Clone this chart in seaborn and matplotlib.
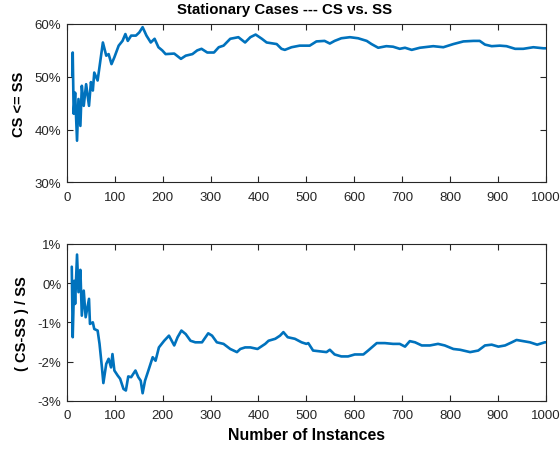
import matplotlib
matplotlib.use("Agg")
import matplotlib.pyplot as plt
import seaborn as sns
import pandas as pd
from matplotlib.ticker import FuncFormatter, MultipleLocator

# ---- data ----
top_x = [11, 12, 14, 17, 21, 24, 28, 31, 35, 40, 46, 50, 54, 57, 64, 75, 82, 87, 93, 99,
         108, 116, 122, 127, 134, 144, 151, 158, 166, 175, 183, 191, 199, 206, 224, 238,
         248, 262, 272, 281, 293, 307, 317, 327, 341, 358, 372, 383, 394, 407, 417, 438,
         448, 455, 469, 486, 507, 521, 538, 549, 559, 573, 591, 608, 626, 636, 650, 667,
         681, 695, 706, 720, 737, 765, 786, 807, 828, 849, 862, 873, 887, 904, 918, 936,
         953, 974, 995, 1000]
top_y = [50.2, 54.6, 43.0, 47.0, 37.9, 45.8, 40.7, 48.3, 44.5, 48.6, 44.5, 49.0, 47.4, 50.8,
         49.3, 56.5, 54.0, 54.3, 52.4, 53.7, 55.9, 56.8, 58.1, 56.8, 57.8, 57.8, 58.4, 59.4,
         57.8, 56.5, 57.2, 55.6, 55.0, 54.3, 54.4, 53.4, 54.0, 54.3, 55.0, 55.3, 54.6, 54.6,
         55.6, 55.9, 57.2, 57.5, 56.5, 57.5, 58.0, 57.2, 56.5, 56.2, 55.3, 55.1, 55.6, 55.9,
         55.9, 56.7, 56.8, 56.3, 56.8, 57.3, 57.5, 57.3, 56.8, 56.2, 55.5, 55.8, 55.7, 55.3,
         55.5, 55.1, 55.5, 55.8, 55.6, 56.2, 56.7, 56.8, 56.8, 56.1, 55.8, 55.9, 55.8, 55.3,
         55.3, 55.6, 55.4, 55.4]

bot_x = [10, 12, 15, 17, 21, 24, 28, 31, 35, 39, 46, 48, 54, 57, 64, 68, 73, 76, 82, 87,
         92, 95, 99, 106, 111, 118, 123, 128, 134, 143, 149, 154, 158, 163, 170, 179, 185,
         192, 203, 213, 224, 231, 239, 248, 258, 268, 282, 295, 303, 313, 327, 341, 355,
         362, 372, 383, 398, 414, 421, 435, 445, 452, 461, 476, 490, 500, 504, 514, 528,
         542, 549, 559, 573, 587, 601, 619, 629, 647, 664, 681, 695, 706, 716, 727, 741,
         758, 775, 789, 807, 821, 842, 859, 873, 887, 901, 915, 929, 939, 953, 967, 982,
         998, 1000]
bot_y = [0.42, -1.38, 0.06, -0.53, 0.73, -0.23, 0.34, -0.83, -0.19, -0.87, -0.40, -1.04,
         -1.00, -1.17, -1.21, -1.55, -2.15, -2.55, -2.06, -1.93, -2.15, -1.81, -2.23, -2.36,
         -2.44, -2.70, -2.74, -2.38, -2.40, -2.23, -2.40, -2.49, -2.81, -2.49, -2.23, -1.89,
         -1.98, -1.64, -1.47, -1.34, -1.59, -1.38, -1.21, -1.30, -1.47, -1.51, -1.51, -1.28,
         -1.34, -1.51, -1.55, -1.68, -1.76, -1.68, -1.64, -1.64, -1.68, -1.55, -1.47, -1.42,
         -1.34, -1.25, -1.38, -1.42, -1.51, -1.55, -1.53, -1.72, -1.74, -1.76, -1.70, -1.82,
         -1.87, -1.87, -1.82, -1.82, -1.72, -1.53, -1.53, -1.55, -1.55, -1.62, -1.48, -1.51,
         -1.59, -1.59, -1.55, -1.59, -1.68, -1.70, -1.76, -1.72, -1.59, -1.57, -1.62, -1.59,
         -1.51, -1.45, -1.48, -1.51, -1.57, -1.51, -1.51]

title = "Stationary Cases --- CS vs. SS"
xlabel = "Number of Instances"
top_ylabel = "CS <= SS"
bot_ylabel = "( CS-SS ) / SS"

sns.set_theme(style="ticks")
plt.rcParams["font.family"] = ["Liberation Sans", "DejaVu Sans"]

blue = "#0072BD"
axcol = "#262626"

fig = plt.figure(figsize=(5.6, 4.52), dpi=100)
ax1 = fig.add_axes([0.1196, 0.5942, 0.8550, 0.3505])
ax2 = fig.add_axes([0.1196, 0.1113, 0.8550, 0.3467])

df1 = pd.DataFrame({"x": top_x, "y": top_y})
df2 = pd.DataFrame({"x": bot_x, "y": bot_y})
sns.lineplot(data=df1, x="x", y="y", ax=ax1, color=blue, linewidth=1.9)
sns.lineplot(data=df2, x="x", y="y", ax=ax2, color=blue, linewidth=1.9)

pct = FuncFormatter(lambda v, p: f"{v:.0f}%")
for ax in (ax1, ax2):
    ax.set_xlim(0, 1000)
    ax.xaxis.set_major_locator(MultipleLocator(100))
    ax.yaxis.set_major_formatter(pct)
    for s in ax.spines.values():
        s.set_visible(True)
        s.set_color(axcol)
        s.set_linewidth(0.8)
    ax.tick_params(direction="in", top=True, right=True, length=4, width=0.8,
                   color=axcol, labelcolor=axcol, labelsize=9.5)
    ax.tick_params(axis="x", pad=6)
    ax.tick_params(axis="y", pad=4)
    ax.set_xlabel("")
    ax.grid(False)

ax1.set_ylim(30, 60)
ax1.yaxis.set_major_locator(MultipleLocator(10))
ax2.set_ylim(-3, 1)
ax2.yaxis.set_major_locator(MultipleLocator(1))

ax1.set_title(title, fontsize=10.8, fontweight="bold", color="black", x=0.455, pad=8)
ax1.set_ylabel(top_ylabel, fontsize=10.5, fontweight="bold", color="black", labelpad=6)
ax2.set_ylabel(bot_ylabel, fontsize=10.5, fontweight="bold", color="black", labelpad=6)
ax2.set_xlabel(xlabel, fontsize=11.4, fontweight="bold", color="black", labelpad=4)

fig.savefig("out.png", dpi=100)
